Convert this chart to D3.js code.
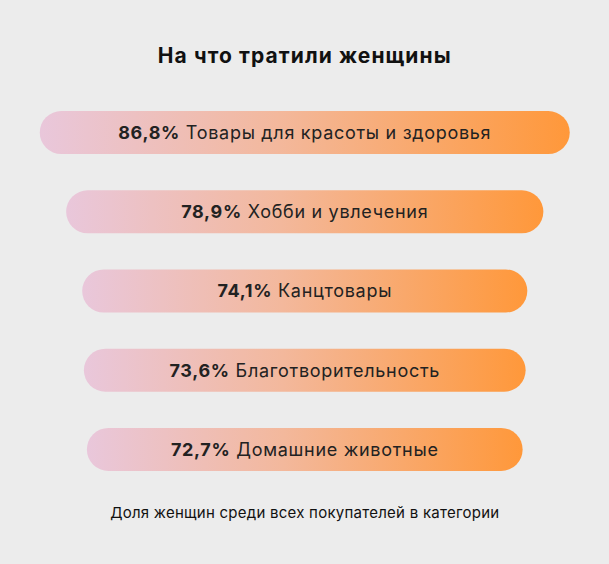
<!DOCTYPE html>
<html>
<head>
<meta charset="utf-8">
<script src="https://cdn.jsdelivr.net/npm/d3@7"></script>
<style>
  html, body { margin: 0; padding: 0; background: #ececec; }
  svg { display: block; font-family: Inter, "Noto Sans", sans-serif; }
</style>
</head>
<body>
<div id="chart"></div>
<script>
const categories = [
    "Товары для красоты и здоровья",
    "Хобби и увлечения",
    "Канцтовары",
    "Благотворительность",
    "Домашние животные"
]
const shares = [86.8, 78.9, 74.1, 73.6, 72.7]
const TITLE = "На что тратили женщины"
const NOTE = "Доля женщин среди всех покупателей в категории"

const WIDTH = 609
const HEIGHT = 564
const CENTER = 304.75

const data = categories.map((name, i) => ({ name, value: shares[i] }))

const svg = d3.select("#chart")
    .append("svg")
    .attr("width", WIDTH)
    .attr("height", HEIGHT)

svg.append("rect")
    .attr("width", WIDTH)
    .attr("height", HEIGHT)
    .attr("fill", "#ececec")

const grad = svg.append("defs")
    .append("linearGradient")
    .attr("id", "pill")
    .attr("x1", "0%").attr("x2", "100%")
    .attr("y1", "0%").attr("y2", "0%")
grad.append("stop").attr("offset", "0%").attr("stop-color", "#e9c7db")
grad.append("stop").attr("offset", "45%").attr("stop-color", "#f3b89c")
grad.append("stop").attr("offset", "100%").attr("stop-color", "#ff983a")

// bar width grows with share
const x = d3.scaleLinear()
    .domain([7.5, 86.8])
    .range([0, 530])

const y = d3.scaleBand()
    .domain(categories)
    .range([111, 471])
    .paddingInner(0.457)
    .paddingOuter(0)

svg.append("text")
    .attr("x", CENTER)
    .attr("y", 63)
    .attr("text-anchor", "middle")
    .attr("font-size", 21)
    .attr("font-weight", 700)
    .attr("letter-spacing", 1.1)
    .attr("fill", "#111")
    .text(TITLE)

const rows = svg.append("g")
    .selectAll("g")
    .data(data)
    .join("g")
    .attr("transform", d => `translate(0, ${y(d.name)})`)

rows.append("rect")
    .attr("x", d => CENTER - x(d.value) / 2)
    .attr("width", d => x(d.value))
    .attr("height", y.bandwidth())
    .attr("rx", y.bandwidth() / 2)
    .attr("fill", "url(#pill)")

const label = rows.append("text")
    .attr("x", CENTER)
    .attr("y", y.bandwidth() / 2)
    .attr("dy", "0.36em")
    .attr("text-anchor", "middle")
    .attr("font-size", 18)
    .attr("letter-spacing", 0.7)
    .attr("fill", "#222")

label.append("tspan")
    .attr("font-weight", 700)
    .text(d => d.value.toFixed(1).replace(".", ",") + "%")
label.append("tspan")
    .text(d => " " + d.name)

svg.append("text")
    .attr("x", CENTER)
    .attr("y", 518)
    .attr("text-anchor", "middle")
    .attr("font-size", 15)
    .attr("letter-spacing", 0.25)
    .attr("fill", "#111")
    .text(NOTE)
</script>
</body>
</html>
